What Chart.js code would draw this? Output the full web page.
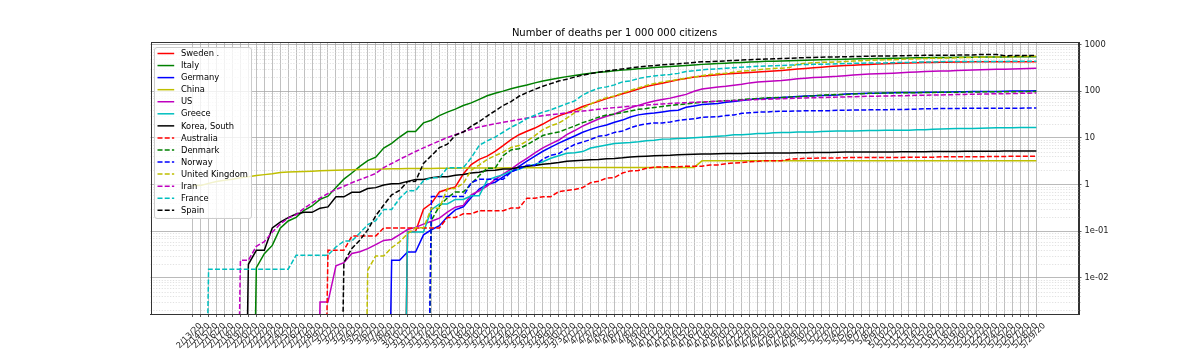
<!DOCTYPE html>
<html>
<head>
<meta charset="utf-8">
<script src="https://cdn.jsdelivr.net/npm/chart.js@4.4.1/dist/chart.umd.min.js"></script>
<style>
html,body{margin:0;padding:0;background:#fff;}
#wrap{width:1198px;height:358px;position:relative;}
</style>
</head>
<body>
<div id="wrap"><canvas id="c" width="1198" height="358"></canvas></div>
<script>
// ---- categories (x tick labels) ----
const dateLabels = [
'2/13/20','2/14/20','2/15/20','2/16/20','2/17/20','2/18/20','2/19/20','2/20/20','2/21/20','2/22/20','2/23/20','2/24/20','2/25/20','2/26/20','2/27/20','2/28/20','2/29/20',
'3/1/20','3/2/20','3/3/20','3/4/20','3/5/20','3/6/20','3/7/20','3/8/20','3/9/20','3/10/20','3/11/20','3/12/20','3/13/20','3/14/20','3/15/20','3/16/20','3/17/20','3/18/20','3/19/20','3/20/20','3/21/20','3/22/20','3/23/20','3/24/20','3/25/20','3/26/20','3/27/20','3/28/20','3/29/20','3/30/20','3/31/20',
'4/1/20','4/2/20','4/3/20','4/4/20','4/5/20','4/6/20','4/7/20','4/8/20','4/9/20','4/10/20','4/11/20','4/12/20','4/13/20','4/14/20','4/15/20','4/16/20','4/17/20','4/18/20','4/19/20','4/20/20','4/21/20','4/22/20','4/23/20','4/24/20','4/25/20','4/26/20','4/27/20','4/28/20','4/29/20','4/30/20',
'5/1/20','5/2/20','5/3/20','5/4/20','5/5/20','5/6/20','5/7/20','5/8/20','5/9/20','5/10/20','5/11/20','5/12/20','5/13/20','5/14/20','5/15/20','5/16/20','5/17/20','5/18/20','5/19/20','5/20/20','5/21/20','5/22/20','5/23/20','5/24/20','5/25/20','5/26/20','5/27/20','5/28/20','5/29/20'];

// ---- y tick labels ----
const yTickValues = [0.01, 0.1, 1, 10, 100, 1000];
const yTickLabels = ['1e-02', '1e-01', '1', '10', '100', '1000'];

// ---- series: cumulative deaths per day (Feb 13 .. May 29) ----
const swedenDeaths = [
0,0,0,0,0,0,0,0,0,0,0,0,0,0,0,0,0,
0,0,0,0,0,0,0,0,0,0,1,1,3,4,7,8,9,17,27,35,41,52,69,93,118,140,164,200,248,300,344,
400,475,540,612,700,783,890,1000,1130,1280,1390,1500,1640,1780,1900,2030,2120,2200,2280,2350,2420,2480,2540,2610,2680,2750,2820,2910,3010,3110,
3210,3310,3410,3500,3580,3650,3720,3790,3860,3920,3970,4020,4070,4110,4150,4180,4210,4240,4260,4280,4300,4315,4325,4335,4340,4345,4348,4350,4352];
const italyDeaths = [
0,0,0,0,0,0,0,0,1,2,3,7,10,12,17,21,29,
34,52,79,107,148,197,233,366,463,631,827,827,1266,1441,1809,2158,2503,2978,3405,4032,4825,5476,6077,6820,7503,8215,9134,10023,10779,11591,12428,
13155,13915,14681,15362,15887,16523,17127,17669,18279,18849,19468,19899,20465,21067,21645,22170,22745,23227,23660,24114,24648,25085,25549,25969,26384,26644,26977,27359,27682,27967,
28236,28710,28884,29079,29315,29684,29958,30201,30395,30560,30739,30911,31106,31368,31610,31763,31908,32007,32169,32330,32486,32616,32735,32785,32877,32955,33072,33142,33229];
const germanyDeaths = [
0,0,0,0,0,0,0,0,0,0,0,0,0,0,0,0,0,
0,0,0,0,0,0,0,0,2,2,3,3,7,9,11,17,24,28,44,67,84,94,123,157,206,267,342,433,533,645,775,
920,1107,1275,1444,1584,1810,2016,2349,2607,2767,2871,3022,3194,3294,3804,4052,4352,4459,4586,4862,5033,5279,5575,5760,5877,5976,6126,6314,6467,6623,
6736,6812,6866,6993,7275,7392,7510,7549,7569,7661,7738,7861,7884,7897,7938,7962,8003,8081,8144,8203,8228,8261,8283,8309,8372,8428,8470,8504,8530];
const chinaDeaths = [
1368,1381,1524,1666,1770,1868,2007,2122,2239,2348,2445,2595,2665,2717,2746,2790,2837,
2872,2914,2947,2983,3015,3044,3072,3100,3123,3139,3161,3172,3180,3193,3203,3217,3230,3241,3249,3253,3259,3274,3274,3281,3285,3291,3296,3299,3304,3308,3309,
3316,3322,3326,3330,3333,3335,3335,3337,3339,3340,3343,3343,3345,3345,3346,3346,4636,4636,4636,4636,4636,4636,4636,4636,4637,4637,4637,4637,4637,4637,
4637,4637,4637,4637,4637,4637,4637,4637,4637,4637,4637,4637,4637,4637,4637,4638,4638,4638,4638,4638,4638,4638,4638,4638,4638,4638,4638,4638,4638];
const usDeaths = [
0,0,0,0,0,0,0,0,0,0,0,0,0,0,0,0,1,
1,6,7,11,12,14,17,21,22,28,36,40,47,54,63,85,108,118,200,244,307,427,552,706,942,1209,1581,2026,2467,2978,3873,
4757,5926,7087,8407,9619,10783,12722,14695,16478,18586,20463,22020,23529,25832,28325,32916,36773,38664,40661,42094,44444,46622,49954,51949,53755,54881,56259,58355,60967,62996,
64943,66369,67682,68922,71064,73455,75662,77180,78795,79526,80682,82356,84119,85898,87530,88754,89562,90347,91921,93439,94702,95979,97087,97720,98220,98916,100418,101617,102836];
const greeceDeaths = [
0,0,0,0,0,0,0,0,0,0,0,0,0,0,0,0,0,
0,0,0,0,0,0,0,0,0,0,1,1,1,3,4,4,5,5,6,6,13,15,17,20,22,26,28,32,38,43,49,
50,53,63,68,73,79,81,83,86,90,93,98,99,101,102,105,108,110,113,116,121,121,125,130,130,134,136,136,139,140,
140,143,144,146,146,147,148,150,150,151,151,151,152,155,156,160,162,163,165,166,166,168,169,171,171,172,173,173,175];
const koreaDeaths = [
0,0,0,0,0,0,0,1,2,2,6,8,10,12,13,13,16,
17,28,28,35,35,42,44,50,53,54,60,66,66,72,75,75,81,84,91,94,102,104,111,111,120,126,131,139,144,152,162,
165,169,174,177,183,186,192,200,204,208,211,214,217,222,225,229,230,232,234,236,237,238,240,240,242,243,243,244,246,247,
248,250,250,252,254,255,255,256,256,256,256,258,259,260,260,262,263,263,263,264,264,264,266,266,267,269,269,269,269];
const australiaDeaths = [
0,0,0,0,0,0,0,0,0,0,0,0,0,0,0,0,0,
1,1,1,2,2,2,2,3,3,3,3,3,3,3,3,5,5,6,6,7,7,7,7,8,8,13,13,14,14,18,19,
20,22,28,30,35,36,45,50,51,57,60,61,61,61,63,63,63,67,67,71,74,75,79,80,83,83,83,89,91,93,
93,95,95,95,96,97,97,97,97,97,97,97,98,98,98,98,100,100,100,100,100,100,102,102,102,103,103,103,103];
const denmarkDeaths = [
0,0,0,0,0,0,0,0,0,0,0,0,0,0,0,0,0,
0,0,0,0,0,0,0,0,0,0,0,0,0,1,2,3,4,4,6,9,13,13,24,32,34,41,52,65,72,77,90,
104,123,139,161,179,187,203,218,237,247,260,273,285,299,309,321,336,346,355,364,370,384,394,403,418,422,427,434,443,452,
460,475,484,493,493,506,514,522,526,529,533,537,537,537,543,547,548,551,552,554,555,561,561,562,563,563,565,568,568];
const norwayDeaths = [
0,0,0,0,0,0,0,0,0,0,0,0,0,0,0,0,0,
0,0,0,0,0,0,0,0,0,0,0,0,0,3,3,3,3,3,6,7,7,7,7,10,12,14,14,19,23,25,32,
39,44,50,59,62,71,76,89,101,108,113,113,119,128,134,139,150,152,154,164,168,182,187,193,194,199,201,201,205,206,
207,207,208,211,211,214,215,216,217,218,219,219,224,224,228,229,232,232,232,233,233,233,234,235,235,235,235,236,236];
const ukDeaths = [
0,0,0,0,0,0,0,0,0,0,0,0,0,0,0,0,0,
0,0,0,0,0,1,2,2,3,4,6,8,8,21,21,56,56,72,138,178,234,282,336,423,466,580,761,1021,1231,1411,1793,
2357,2926,3611,4320,4943,5385,6171,7111,7993,8974,9892,10629,11347,12129,12894,13759,14607,15498,16095,16550,17378,18151,18791,19567,20381,20794,21153,21767,26166,26842,
27583,28205,28520,28809,29501,30150,30689,31316,31662,31930,32141,32769,33264,33693,34078,34546,34716,34876,35422,35786,36124,36475,36757,36875,37048,37181,37541,37919,38243];
const iranDeaths = [
0,0,0,0,0,0,2,2,4,5,8,12,16,19,26,34,43,
54,66,77,92,107,124,145,194,237,291,354,429,514,611,724,853,988,1135,1284,1433,1556,1685,1812,1934,2077,2234,2378,2517,2640,2757,2898,
3036,3160,3294,3452,3603,3739,3872,3993,4110,4232,4357,4474,4585,4683,4777,4869,4958,5031,5118,5209,5297,5391,5481,5574,5650,5710,5806,5877,5957,6028,
6091,6156,6203,6277,6340,6418,6486,6541,6589,6640,6685,6733,6783,6854,6902,6937,6988,7057,7119,7183,7249,7300,7359,7417,7451,7508,7564,7627,7677];
const franceDeaths = [
0,0,1,1,1,1,1,1,1,1,1,1,1,2,2,2,2,
2,3,4,4,6,9,11,19,19,33,48,48,79,91,91,149,149,149,244,451,563,676,862,1102,1333,1698,1997,2317,2611,3030,3532,
4043,5398,6520,7574,8093,8926,10343,10887,12228,13215,13851,14412,14986,15748,17188,17941,18703,19345,19744,20292,20829,21373,21889,22278,22648,22893,23327,23695,24121,24410,
24594,24763,24900,25204,25537,25812,25990,26233,26313,26383,26646,26994,27077,27428,27532,27532,28111,28242,28242,28242,28242,28289,28332,28370,28460,28533,28599,28665,28717];
const spainDeaths = [
0,0,0,0,0,0,0,0,0,0,0,0,0,0,0,0,0,
0,0,1,2,3,5,10,17,28,35,54,55,133,195,289,342,533,623,830,1043,1375,1772,2311,2808,3647,4365,5138,5982,6803,7716,8464,
9387,10348,11198,11947,12641,13341,14045,14792,15447,16081,16606,17209,17756,18056,18708,19315,20002,20043,20453,20852,21282,21717,22157,22524,22902,23190,23521,23822,24275,24543,
24543,25100,25264,25428,25613,25857,26070,26299,26478,26621,26744,26920,27104,27321,27459,27563,27650,27709,27778,27888,27940,28628,28678,28752,26834,27117,27117,27118,27121];

// ---- series names, populations (millions) ----
const seriesNames = ['Sweden .','Italy','Germany','China','US','Greece','Korea, South',
  'Australia','Denmark','Norway','United Kingdom','Iran','France','Spain'];
const populationsM = [10.1, 60.46, 83.78, 1439.32, 331.0, 10.42, 51.27,
  25.5, 5.79, 5.42, 67.89, 83.99, 65.27, 46.75];
const seriesDeaths = [swedenDeaths, italyDeaths, germanyDeaths, chinaDeaths, usDeaths, greeceDeaths, koreaDeaths,
  australiaDeaths, denmarkDeaths, norwayDeaths, ukDeaths, iranDeaths, franceDeaths, spainDeaths];

// ---- styles ----
const seriesColors = ['#ff0000','#008000','#0000ff','#bfbf00','#bf00bf','#00bfbf','#000000',
  '#ff0000','#008000','#0000ff','#bfbf00','#bf00bf','#00bfbf','#000000'];
const seriesDashed = [false,false,false,false,false,false,false,true,true,true,true,true,true,true];
const DASH = [5, 2.2];
const LW = 1.5;
const FONT = '"DejaVu Sans", "Liberation Sans", sans-serif';

Chart.defaults.font.family = FONT;

const datasets = seriesNames.map((name, k) => ({
  label: name,
  data: seriesDeaths[k].map((d, i) => ({ x: i, y: d > 0 ? d / populationsM[k] : 1e-12 })),
  borderColor: seriesColors[k],
  backgroundColor: seriesColors[k],
  borderWidth: LW,
  borderDash: seriesDashed[k] ? DASH : [],
  pointRadius: 0,
  tension: 0,
  fill: false,
  order: -k
}));

const decor = {
  id: 'decor',
  beforeDatasetsDraw(chart) {
    const { ctx, chartArea: a, scales: { y } } = chart;
    ctx.save();
    const minors = [];
    for (let d = -3; d <= 3; d++) for (let k = 2; k <= 9; k++) {
      const v = k * Math.pow(10, d);
      if (v >= y.min && v <= y.max) minors.push(Math.round(y.getPixelForValue(v)) + 0.5);
    }
    ctx.strokeStyle = '#d9d9d9';
    ctx.lineWidth = 0.8;
    ctx.setLineDash([1.2, 1.6]);
    minors.forEach(py => { ctx.beginPath(); ctx.moveTo(a.left, py); ctx.lineTo(a.right, py); ctx.stroke(); });
    ctx.setLineDash([]);
    ctx.strokeStyle = '#333';
    ctx.lineWidth = 0.7;
    minors.forEach(py => { ctx.beginPath(); ctx.moveTo(a.right, py); ctx.lineTo(a.right + 1.8, py); ctx.stroke(); });
    ctx.restore();
  },
  afterDatasetsDraw(chart) {
    const { ctx, chartArea: a } = chart;
    ctx.save();
    ctx.strokeStyle = '#333';
    ctx.lineWidth = 1;
    ctx.strokeRect(Math.round(a.left) + 0.5, Math.round(a.top) + 0.5, Math.round(a.right - a.left), Math.round(a.bottom - a.top));
    const bx = 154.5, by = 47.5, bw = 97, bh = 171, r = 2.5;
    ctx.beginPath();
    ctx.moveTo(bx + r, by);
    ctx.lineTo(bx + bw - r, by); ctx.quadraticCurveTo(bx + bw, by, bx + bw, by + r);
    ctx.lineTo(bx + bw, by + bh - r); ctx.quadraticCurveTo(bx + bw, by + bh, bx + bw - r, by + bh);
    ctx.lineTo(bx + r, by + bh); ctx.quadraticCurveTo(bx, by + bh, bx, by + bh - r);
    ctx.lineTo(bx, by + r); ctx.quadraticCurveTo(bx, by, bx + r, by);
    ctx.closePath();
    ctx.fillStyle = 'rgba(255,255,255,0.8)';
    ctx.fill();
    ctx.strokeStyle = '#cccccc';
    ctx.lineWidth = 1;
    ctx.stroke();
    ctx.font = '8.33px ' + FONT;
    ctx.textBaseline = 'middle';
    ctx.textAlign = 'left';
    chart.data.datasets.forEach((ds, k) => {
      const yy = 53.5 + k * 12.06;
      ctx.strokeStyle = ds.borderColor;
      ctx.lineWidth = LW;
      ctx.setLineDash(seriesDashed[k] ? DASH : []);
      ctx.beginPath(); ctx.moveTo(157.5, yy); ctx.lineTo(174.2, yy); ctx.stroke();
      ctx.setLineDash([]);
      ctx.fillStyle = '#000';
      ctx.fillText(ds.label, 181, yy + 0.5);
    });
    ctx.restore();
  },
  afterDraw(chart) {
    const { ctx } = chart;
    ctx.save();
    ctx.font = '10px ' + FONT;
    ctx.fillStyle = '#000';
    ctx.textAlign = 'center';
    ctx.textBaseline = 'middle';
    ctx.fillText('Number of deaths per 1 000 000 citizens', 614.5, 33);
    ctx.restore();
  }
};

new Chart(document.getElementById('c'), {
  type: 'line',
  data: { datasets },
  options: {
    responsive: false,
    animation: false,
    devicePixelRatio: 1,
    events: [],
    layout: { padding: { left: 150.5, top: 42, right: 0, bottom: 0 } },
    plugins: { legend: { display: false }, title: { display: false }, tooltip: { enabled: false } },
    scales: {
      x: {
        type: 'linear', position: 'bottom', min: -5.3, max: 111.3,
        afterBuildTicks: (s) => { s.ticks = dateLabels.map((_, i) => ({ value: i })); },
        afterFit: (s) => { s.height = 44; },
        ticks: {
          autoSkip: false, minRotation: 45, maxRotation: 45, labelOffset: 8, padding: 4,
          font: { size: 8.33 }, color: '#222',
          callback: (v) => (dateLabels[v] !== undefined ? dateLabels[v] : '')
        },
        grid: { color: '#b0b0b0', lineWidth: 0.8, tickLength: 3, tickColor: '#333', tickWidth: 0.8 },
        border: { color: '#333', width: 1 }
      },
      y: {
        type: 'logarithmic', position: 'right', min: 0.00168, max: 1135,
        afterBuildTicks: (s) => { s.ticks = yTickValues.map(v => ({ value: v, major: true })); },
        afterFit: (s) => { s.width = 119.5; },
        ticks: {
          padding: 3, font: { size: 8.33 }, color: '#222',
          callback: (v, i) => yTickLabels[i]
        },
        grid: { color: '#a8a8a8', lineWidth: 0.8, tickLength: 3, tickColor: '#333', tickWidth: 0.8 },
        border: { color: '#333', width: 1 }
      }
    }
  },
  plugins: [decor]
});
</script>
</body>
</html>
